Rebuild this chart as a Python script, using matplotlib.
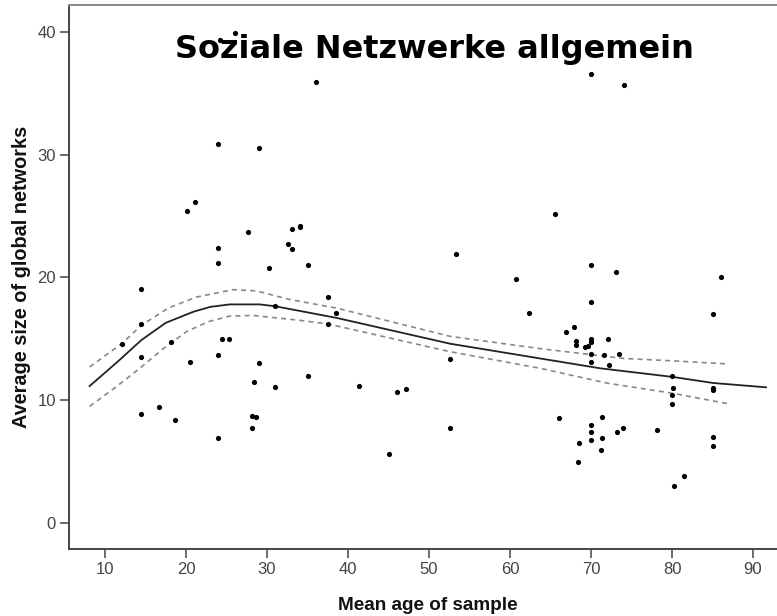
import matplotlib
matplotlib.use("Agg")
import matplotlib.pyplot as plt

# Scatter data: mean age of sample vs average size of global networks
age = [26.0, 24.2, 36.0, 24.0, 29.05, 21.07, 20.1,
       27.7, 33.05, 34.07, 34.07, 32.6, 33.05, 24.0, 24.0, 30.2, 35.06,
       14.5, 37.5, 38.5, 31.0, 37.5, 14.5, 12.06, 18.1, 24.4, 25.3,
       14.5, 24.0, 20.5, 29.05, 35.0, 28.4, 31.0,
       14.4, 16.7, 18.7, 28.1, 28.6, 28.1, 24.0,
       53.3, 60.8, 62.3, 52.55, 41.4, 46.1, 47.1, 52.55, 45.1, 66.0,
       70.0, 74.1, 65.6,
       70.0, 73.1, 86.0, 70.0, 85.0, 67.9, 66.95, 68.15, 68.15, 70.0, 70.0,
       72.1, 69.3, 69.6, 70.0, 70.0, 71.6, 73.5, 72.2, 80.0, 80.15, 80.0,
       80.0, 85.0, 85.1, 71.4, 70.0, 70.0, 70.0, 71.4, 73.2, 73.9, 78.1,
       68.55, 71.2, 68.35, 85.0, 85.1, 81.5, 80.3]
size = [39.9, 39.3, 35.9, 30.9, 30.5, 26.1, 25.4,
        23.7, 23.9, 24.2, 24.1, 22.7, 22.3, 22.4, 21.2, 20.8, 21.0,
        19.05, 18.4, 17.1, 17.7, 16.2, 16.2, 14.55, 14.7, 15.0, 15.0,
        13.5, 13.7, 13.1, 13.0, 12.0, 11.5, 11.1,
        8.9, 9.45, 8.4, 8.75, 8.65, 7.7, 6.9,
        21.9, 19.9, 17.1, 13.35, 11.15, 10.7, 10.95, 7.75, 5.6, 8.55,
        36.6, 35.7, 25.2,
        21.0, 20.4, 20.0, 18.0, 17.0, 16.0, 15.55, 14.85, 14.5, 15.0, 14.75,
        14.95, 14.3, 14.45, 13.8, 13.15, 13.65, 13.8, 12.9, 11.95, 11.0, 10.4,
        9.7, 11.0, 10.8, 8.6, 8.0, 7.4, 6.75, 6.9, 7.45, 7.7, 7.6,
        6.5, 5.95, 5.0, 7.0, 6.25, 3.8, 3.0]

# Fit line (loess) and confidence band
fit_x = [8.1, 11.5, 14.5, 17.5, 20.9, 23.0, 25.4, 29.1, 31.0, 38.6, 52.6, 63.7, 71.1, 80.0, 85.1, 91.6]
fit_y = [11.15, 13.1, 14.9, 16.3, 17.2, 17.6, 17.8, 17.8, 17.65, 16.7, 14.6, 13.4, 12.6, 11.9, 11.4, 11.05]
up_x = [8.1, 12.05, 14.5, 17.8, 21.3, 25.8, 28.7, 32.8, 38.6, 52.6, 63.7, 74.0, 80.2, 87.0]
up_y = [12.7, 14.6, 16.1, 17.5, 18.4, 19.0, 18.9, 18.2, 17.5, 15.2, 14.2, 13.4, 13.2, 12.95]
lo_x = [8.1, 11.2, 14.3, 17.2, 20.1, 22.8, 25.4, 28.3, 34.1, 37.6, 52.6, 63.7, 71.9, 80.2, 87.0]
lo_y = [9.5, 11.0, 12.6, 14.2, 15.6, 16.4, 16.85, 16.9, 16.5, 16.2, 13.95, 12.6, 11.4, 10.55, 9.7]

x_ticks = [10, 20, 30, 40, 50, 60, 70, 80, 90]
y_ticks = [0, 10, 20, 30, 40]

W, H = 777, 616
fig = plt.figure(figsize=(W / 100, H / 100), dpi=100)
ax = fig.add_axes([69 / W, (H - 549) / H, (W - 69) / W, (549 - 5) / H])

ax.plot(fit_x, fit_y, color='#222222', lw=1.3)
ax.plot(up_x, up_y, color='#888888', lw=1.2, ls=(0, (3, 2.5)))
ax.plot(lo_x, lo_y, color='#888888', lw=1.2, ls=(0, (3, 2.5)))
ax.scatter(age, size, s=14, color='black', zorder=3, linewidths=0)

ax.set_xlim(5.556, 92.96)
ax.set_ylim(-2.117, 42.18)
ax.set_xticks(x_ticks)
ax.set_yticks(y_ticks)
tick_font = dict(family='Liberation Sans', size=12)
ax.set_xticklabels([str(t) for t in x_ticks], color='#444444', **tick_font)
ax.set_yticklabels([str(t) for t in y_ticks], color='#444444', **tick_font)
ax.tick_params(direction='out', length=6.5, width=1.1, color='#444444', pad=3)

for side in ['left', 'bottom']:
    ax.spines[side].set_color('#444444')
    ax.spines[side].set_linewidth(1.4)
ax.spines['top'].set_color('#888888')
ax.spines['top'].set_linewidth(1.4)
ax.spines['right'].set_visible(False)

fig.text(428 / W, 1 - 605 / H, 'Mean age of sample', ha='center', va='center',
         family='Liberation Sans', weight='bold', size=13.6, color='#111111')
fig.text(22 / W, 1 - 277 / H, 'Average size of global networks', ha='center', va='center',
         rotation=90, family='Liberation Sans', weight='bold', size=14.3, color='#111111')
fig.text(434 / W, 1 - 58 / H, 'Soziale Netzwerke allgemein', ha='center', va='baseline',
         family='DejaVu Sans', weight='bold', size=23, color='black', zorder=5)

fig.savefig('out.png', dpi=100)
